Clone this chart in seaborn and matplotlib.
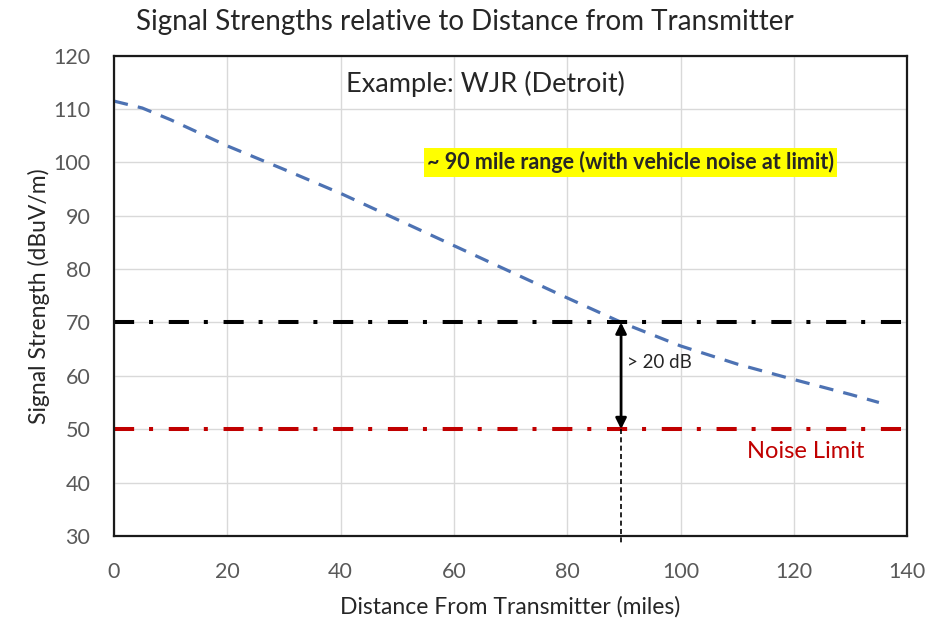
import matplotlib
matplotlib.use("Agg")
import matplotlib.pyplot as plt
import seaborn as sns
import pandas as pd

# Field strength of WJR versus distance (miles, dBuV/m)
distance = [0, 5, 10, 20, 30, 40, 50, 60, 70, 80, 90, 100, 110, 120, 130, 135]
signal = [111.5, 110.2, 108.0, 103.1, 98.7, 94.2, 89.3, 84.4, 79.5, 74.6, 69.8, 65.6, 62.2, 59.3, 56.5, 55.0]

usable_level = 70
noise_level = 50
range_limit = 89.5
ref_line_end = 139

x_ticks = [0, 20, 40, 60, 80, 100, 120, 140]
y_ticks = [30, 40, 50, 60, 70, 80, 90, 100, 110, 120]

sns.set_style("whitegrid")
plt.rcParams["font.family"] = ["Lato", "DejaVu Sans"]

df = pd.DataFrame({"distance": distance, "signal": signal})

fig = plt.figure(figsize=(9.49, 6.26), dpi=100)
ax = fig.add_axes([0.120, 0.144, 0.836, 0.767])

sns.lineplot(data=df, x="distance", y="signal", ax=ax, color="#4d72b3",
             linewidth=2.3, dashes=False, linestyle=(0, (4.5, 3.2)))

ax.plot([0, ref_line_end], [usable_level, usable_level], color="black",
        linewidth=2.9, linestyle=(0, (5, 3.7, 1, 3.9)), solid_capstyle="butt")
ax.plot([0, ref_line_end], [noise_level, noise_level], color="#c00000",
        linewidth=2.9, linestyle=(0, (5, 3.7, 1, 3.9)), solid_capstyle="butt")

# Margin between usable signal and noise floor
ax.annotate("", xy=(range_limit, usable_level), xytext=(range_limit, noise_level),
            arrowprops=dict(arrowstyle="<|-|>", color="black", lw=2,
                            mutation_scale=16, shrinkA=0, shrinkB=0))
ax.plot([range_limit, range_limit], [noise_level, 28.3], color="black",
        linewidth=1.2, linestyle=(0, (3, 2)), clip_on=False)
ax.text(range_limit + 1.1, 62.5, "> 20 dB", fontsize=13.5, va="center", ha="left")

ax.text(122, 45.8, "Noise Limit", color="#c00000", fontsize=17, ha="center", va="center")
ax.text(65.5, 114.7, "Example: WJR (Detroit)", fontsize=19.5, ha="center", va="center")
ax.text(91.2, 100, "~ 90 mile range (with vehicle noise at limit)", fontsize=15.5,
        fontweight="bold", ha="center", va="center",
        bbox=dict(boxstyle="square,pad=0.15", facecolor="#ffff00", edgecolor="none"))

ax.set_xlim(0, 140)
ax.set_ylim(30, 120)
ax.set_xticks(x_ticks)
ax.set_yticks(y_ticks)
ax.tick_params(axis="both", length=0, labelsize=15.5, labelcolor="#595959")
ax.tick_params(axis="x", pad=19)
ax.tick_params(axis="y", pad=17)
ax.grid(True, color="#d9d9d9", linewidth=1)
for s in ax.spines.values():
    s.set_color("#1a1a1a")
    s.set_linewidth(1.6)

ax.set_xlabel("Distance From Transmitter (miles)", fontsize=16.5, labelpad=10)
ax.set_ylabel("Signal Strength (dBuV/m)", fontsize=16.5, labelpad=2)
fig.text(0.49, 0.965, "Signal Strengths relative to Distance from Transmitter",
         fontsize=20, ha="center", va="center")

fig.savefig("out.png", dpi=100)
